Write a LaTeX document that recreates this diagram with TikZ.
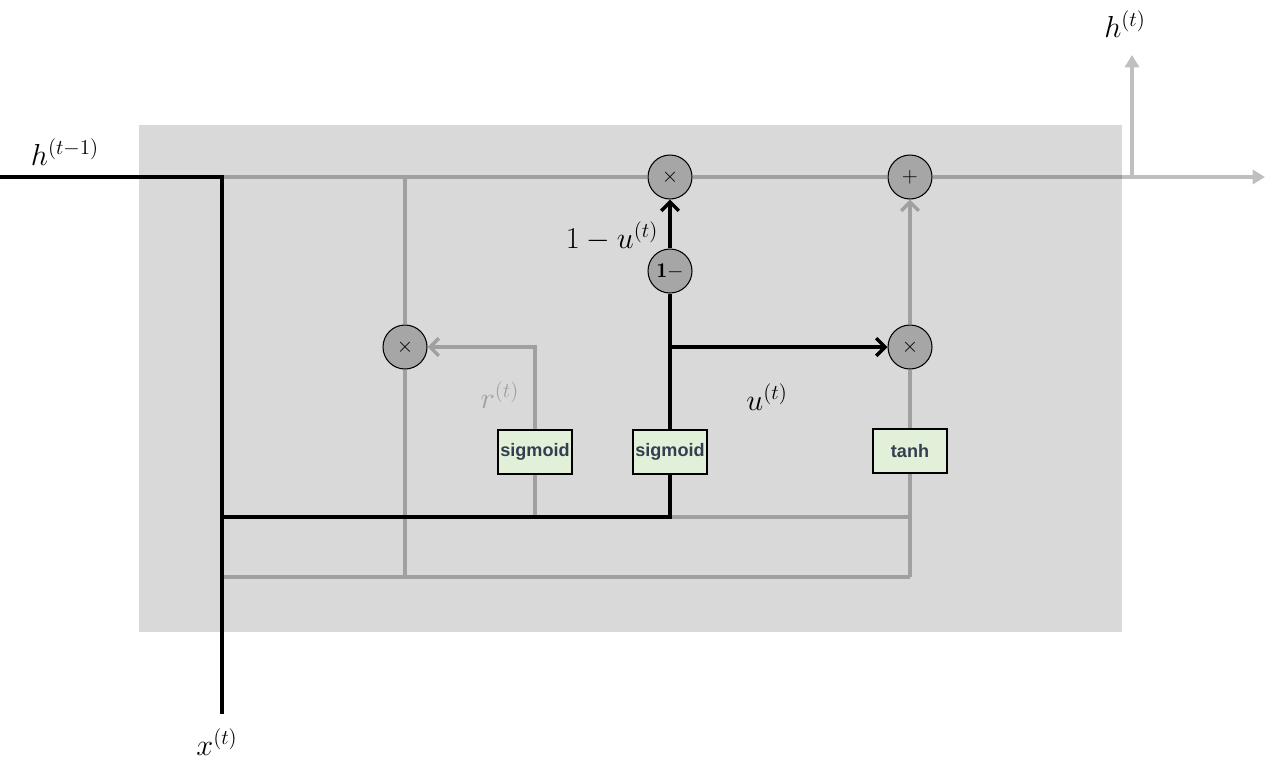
\documentclass[tikz,border=0pt]{standalone}
\usepackage{fontspec}
\usepackage{xcolor}
\usepackage{tikz}
\usetikzlibrary{positioning,arrows.meta,calc}
\usepackage{amsmath}

\newfontfamily\gatefont{Liberation Sans}
\definecolor{cellbg}{HTML}{D9D9D9}
\definecolor{opfill}{HTML}{A6A6A6}
\definecolor{wire}{HTML}{A0A0A0}
\definecolor{wireout}{HTML}{BFBFBF}
\definecolor{gatefill}{HTML}{E2F0D9}
\definecolor{gatetext}{HTML}{333F50}

\begin{document}
\begin{tikzpicture}[
  x=0.02cm, y=-0.02cm,
  every node/.style={font=\fontsize{18}{20}\selectfont},
  op/.style={draw, circle, fill=opfill, line width=0.6pt, minimum size=0.88cm, inner sep=0pt, font=\large},
  gate/.style={draw, fill=gatefill, line width=0.8pt, minimum width=1.48cm, minimum height=0.88cm, inner sep=0pt, text=gatetext, font=\gatefont\bfseries\fontsize{10.3}{12}\selectfont},
  blk/.style={draw=black, line width=2pt},
  gry/.style={draw=wire, line width=2pt},
  >={Straight Barb[length=5pt,width=10pt]}
]
\useasboundingbox (0,0) rectangle (1280,769);
\fill[cellbg] (139,125) rectangle (1122,632);

% junctions
\coordinate (hin) at (0,177);
\coordinate (hc) at (222,177);
\coordinate (xin) at (222,714);
\coordinate (jb) at (222,517);
\coordinate (jc) at (222,577);
\coordinate (rj) at (405,177);
\coordinate (lj) at (405,577);
\coordinate (rsplit) at (535,517);
\coordinate (uj) at (670,517);
\coordinate (ubr) at (670,347);
\coordinate (tj) at (910,517);
\coordinate (cj) at (910,577);
\coordinate (cellend) at (1122,177);
\coordinate (hsplit) at (1132,177);
\coordinate (hnext) at (1265,177);
\coordinate (hout) at (1132,55);

% operators
\node[op] (mtop) at (670,177) {$\times$};
\node[op] (add) at (910,177) {$+$};
\node[op] (omu) at (670,271) {$\mathbf{1-}$};
\node[op] (ml) at (405,347) {$\times$};
\node[op] (mr) at (910,347) {$\times$};

% gates
\node[gate] (rsig) at (535,452) {sigmoid};
\node[gate] (usig) at (670,452) {sigmoid};
\node[gate] (tanh) at (910,451) {tanh};

% labels
\node (hprev) at (65,152) {$h^{(t-1)}$};
\node (hlab) at (1125,24) {$h^{(t)}$};
\node (xlab) at (217,742) {$x^{(t)}$};
\node (omulab) at (612,236) {$1-u^{(t)}$};
\node[text=wire] (rlab) at (500,395) {$r^{(t)}$};
\node (ulab) at (767,397) {$u^{(t)}$};

% grey wires
\draw[gry] (hc) -- (mtop);
\draw[gry] (mtop) -- (add);
\draw[gry] (add) -- (cellend);
\draw[wireout, line width=2pt, -{Triangle[length=7pt,width=8pt]}] (cellend) -- (hnext);
\draw[wireout, line width=2pt, -{Triangle[length=7pt,width=8pt]}] (hsplit) -- (hout);
\draw[gry] (rj) -- (ml);
\draw[gry] (ml) -- (lj);
\draw[gry] (jc) -- (cj);
\draw[gry] (uj) -- (tj);
\draw[gry] (cj) -- (tanh);
\draw[gry] (tanh) -- (mr);
\draw[gry,->] (mr) -- (add);
\draw[gry] (rsplit) -- (rsig);
\draw[gry,->] (rsig) |- (ml);

% black wires
\draw[blk] (hin) -- (hc) -- (xin);
\draw[blk] (jb) -- (uj) -- (usig);
\draw[blk] (usig) -- (omu);
\draw[blk,->] (omu) -- (mtop);
\draw[blk,->] (ubr) -- (mr);
\end{tikzpicture}
\end{document}
